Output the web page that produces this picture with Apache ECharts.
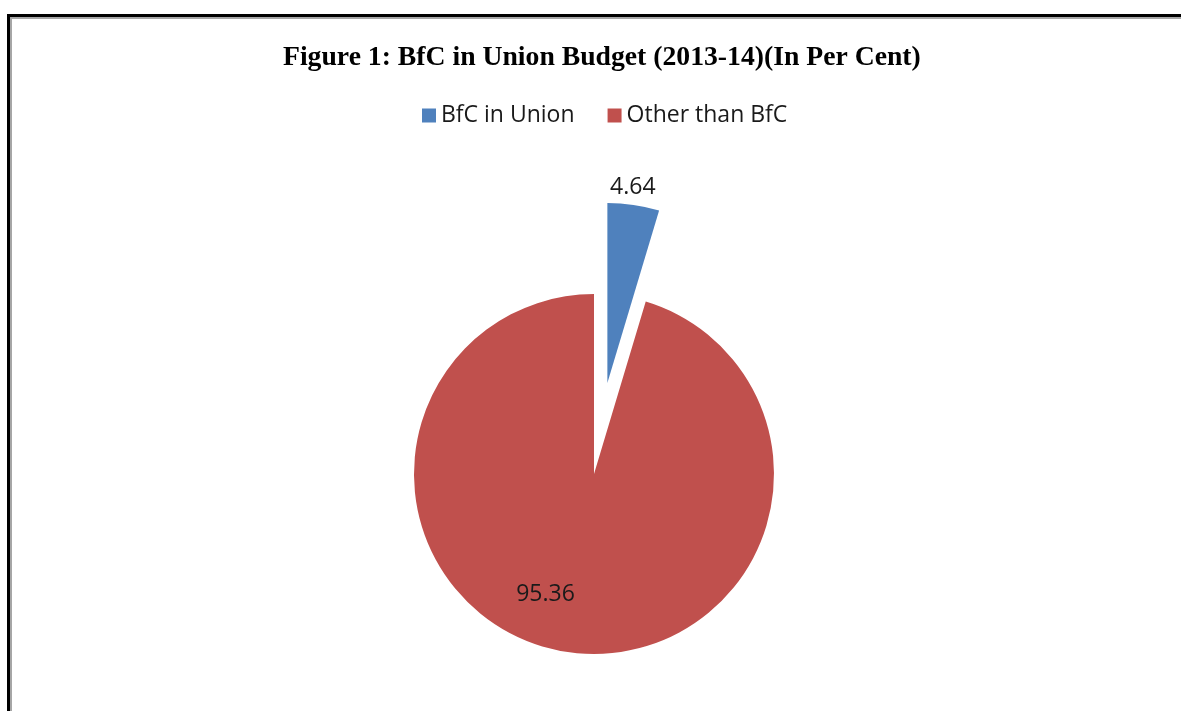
<!DOCTYPE html>
<html>
<head>
<meta charset="utf-8">
<script src="https://cdn.jsdelivr.net/npm/echarts@6/dist/echarts.min.js"></script>
<style>
html,body{margin:0;padding:0;background:#fff;}
#frame{position:absolute;left:7px;top:14px;width:1174px;height:697px;border-left:3px solid #000;border-top:3px solid #000;box-sizing:border-box;}
#frame2{position:absolute;left:10px;top:17px;width:1171px;height:694px;border-left:2px solid #a6a6a6;border-top:2px solid #a6a6a6;box-sizing:border-box;}
#chart{position:absolute;left:0;top:0;width:1181px;height:711px;}
</style>
</head>
<body>
<div id="frame"></div>
<div id="frame2"></div>
<div id="chart"></div>
<script>
const titleText = 'Figure 1: BfC in Union Budget (2013-14)(In Per Cent)';
const categories = ['BfC in Union', 'Other than BfC'];
const values = [4.64, 95.36];
const colors = ['#4F81BD', '#C0504D'];

const chart = echarts.init(document.getElementById('chart'), null, {renderer: 'canvas'});
const labelShift = [[12, -104], [-35, 28]];
chart.setOption({
  animation: false,
  title: {
    text: titleText,
    left: 278,
    top: 39,
    textStyle: {fontFamily: 'Liberation Serif', fontWeight: 'bold', fontSize: 27.7, color: '#000'}
  },
  legend: {
    data: categories,
    top: 99,
    left: 417,
    icon: 'rect',
    itemWidth: 14,
    itemHeight: 14,
    itemGap: 33,
    textStyle: {fontFamily: 'Open Sans', fontSize: 23, color: '#1a1a1a'},
    selectedMode: false
  },
  series: [{
    type: 'pie',
    center: [594, 474],
    radius: 180,
    startAngle: 90,
    clockwise: true,
    selectedMode: 'single',
    selectedOffset: 92,
    avoidLabelOverlap: false,
    label: {
      show: true,
      position: 'inside',
      formatter: p => p.value.toFixed(2),
      fontFamily: 'Open Sans',
      fontSize: 23,
      color: '#1a1a1a'
    },
    labelLine: {show: false},
    labelLayout: function (params) {
      const s = labelShift[params.dataIndex];
      return {dx: s[0], dy: s[1]};
    },
    emphasis: {disabled: true},
    data: categories.map((c, i) => ({
      name: c,
      value: values[i],
      selected: i === 0,
      itemStyle: {color: colors[i]}
    }))
  }]
});
</script>
</body>
</html>
